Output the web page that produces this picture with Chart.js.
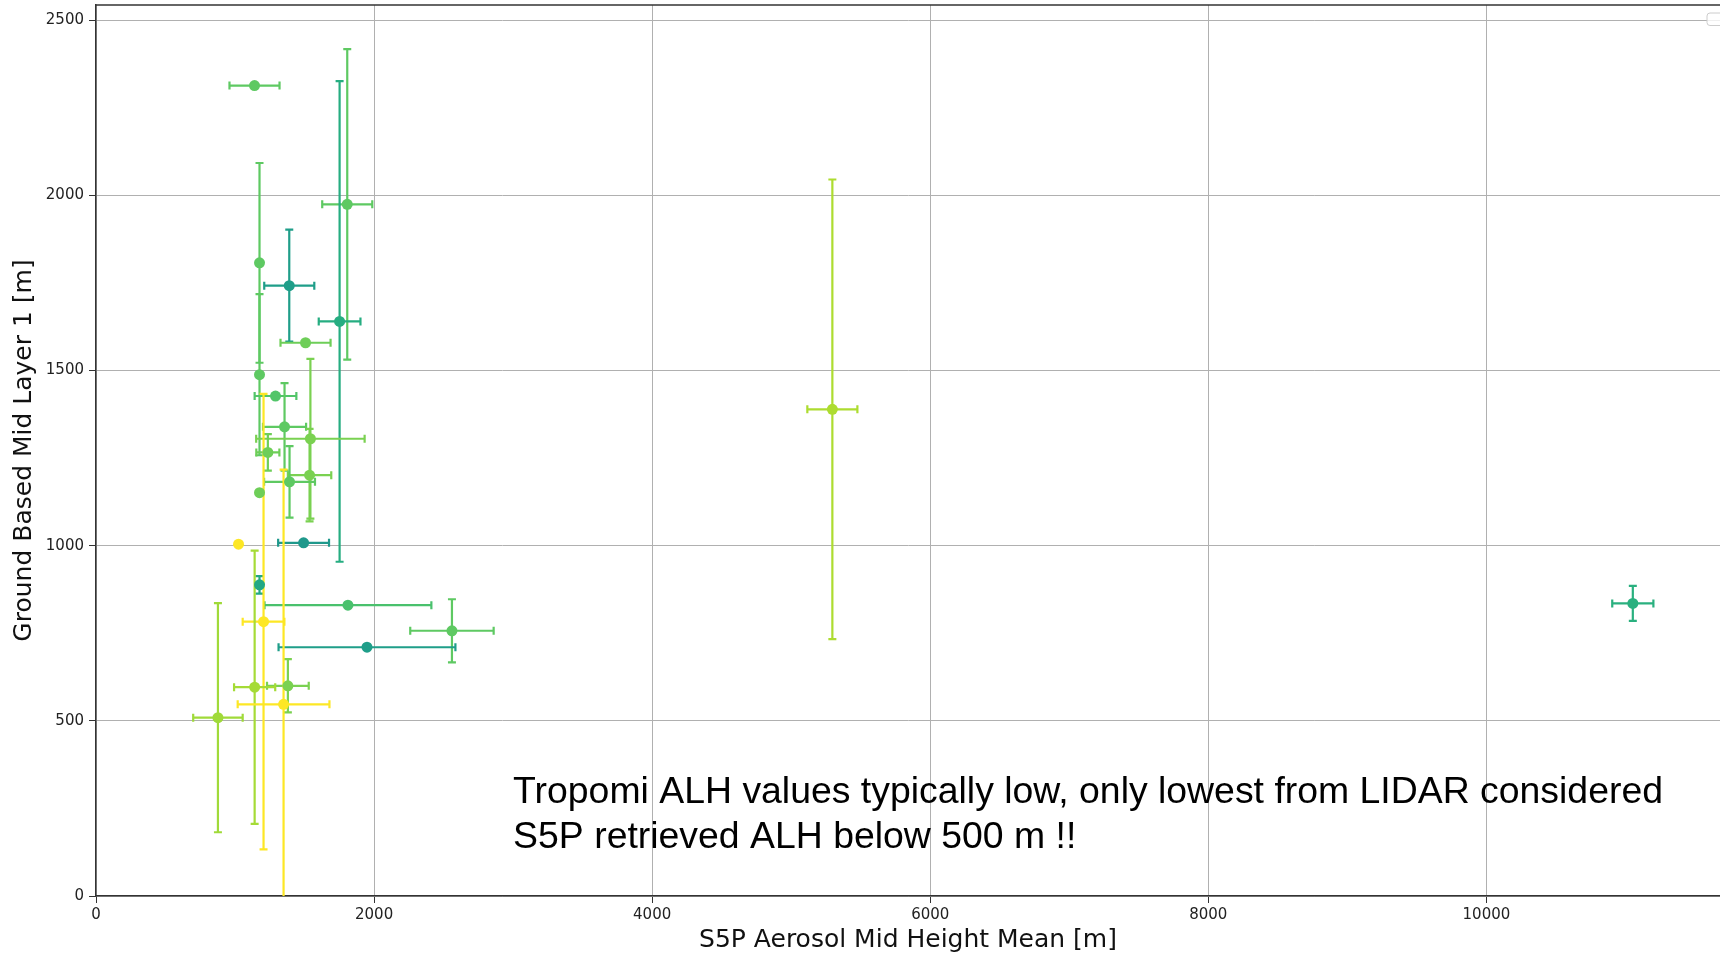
<!DOCTYPE html>
<html>
<head>
<meta charset="utf-8">
<title>S5P ALH vs ground based</title>
<script src="https://cdn.jsdelivr.net/npm/chart.js@4.4.0/dist/chart.umd.min.js"></script>
<style>
  html, body { margin: 0; padding: 0; background: #fff; overflow: hidden; }
</style>
</head>
<body>
<canvas id="alhChart" width="1720" height="953"></canvas>
<script>
// S5P aerosol mid height (x) and ground based mid layer 1 (y), with errors, in metres
const s5pMean    = [1140, 1807, 1176, 1390, 1752, 1507, 1176, 1291, 1356, 1542, 1236, 1536, 1392, 1176,
                    1025, 1493, 1176, 1812, 1205, 2560, 1949, 1380, 1141, 1349, 877, 5296, 11053];
const s5pErr     = [180, 180, 0, 180, 150, 180, 0, 150, 155, 390, 83, 156, 183, 0,
                    0, 183, 10, 600, 150, 300, 636, 150, 148, 330, 178, 180, 148];
const groundMean = [2313, 1974, 1807, 1742, 1640, 1579, 1488, 1427, 1339, 1305, 1266, 1201, 1182, 1151,
                    1004, 1008, 888, 830, 783, 757, 710, 600, 596, 547, 509, 1389, 835];
const groundErr  = [0, 443, 285, 160, 686, 0, 230, 0, 125, 228, 52, 132, 102, 0,
                    0, 0, 25, 0, 650, 90, 0, 76, 390, 670, 327, 656, 50];

const xTickValues = [0, 2000, 4000, 6000, 8000, 10000];
const yTickValues = [0, 500, 1000, 1500, 2000, 2500];
const noteLines = ['Tropomi ALH values typically low, only lowest from LIDAR considered',
                   'S5P retrieved ALH below 500 m !!'];

// per point colours (viridis like)
const pointColors = ['#5ec962', '#5ec962', '#5ec962', '#1f9e89', '#26ad81', '#6ece58', '#5ec962',
                     '#52c569', '#5ec962', '#7ad151', '#6ece58', '#7ad151', '#5ec962', '#6ece58',
                     '#fde725', '#1f988b', '#22a884', '#4ac16d', '#fde725', '#5ec962', '#1f9e89',
                     '#7ad151', '#a5db36', '#fde725', '#a0da39', '#addc30', '#2ab07f'];

const points = s5pMean.map((x, i) => ({ x: x, y: groundMean[i] }));

const errorBars = {
  id: 'errorBars',
  beforeDatasetsDraw(chart) {
    const { ctx, chartArea: a, scales: { x: sx, y: sy } } = chart;
    const cap = 4;
    ctx.save();
    ctx.beginPath();
    ctx.rect(a.left, a.top, a.right - a.left, a.bottom - a.top);
    ctx.clip();
    ctx.lineWidth = 2.2;
    s5pMean.forEach((xv, i) => {
      const px = sx.getPixelForValue(xv);
      const py = sy.getPixelForValue(groundMean[i]);
      ctx.strokeStyle = pointColors[i];
      ctx.beginPath();
      if (s5pErr[i] > 0) {
        const x0 = sx.getPixelForValue(xv - s5pErr[i]);
        const x1 = sx.getPixelForValue(xv + s5pErr[i]);
        ctx.moveTo(x0, py); ctx.lineTo(x1, py);
        ctx.moveTo(x0, py - cap); ctx.lineTo(x0, py + cap);
        ctx.moveTo(x1, py - cap); ctx.lineTo(x1, py + cap);
      }
      if (groundErr[i] > 0) {
        const y0 = sy.getPixelForValue(groundMean[i] - groundErr[i]);
        const y1 = sy.getPixelForValue(groundMean[i] + groundErr[i]);
        ctx.moveTo(px, y0); ctx.lineTo(px, y1);
        ctx.moveTo(px - cap, y0); ctx.lineTo(px + cap, y0);
        ctx.moveTo(px - cap, y1); ctx.lineTo(px + cap, y1);
      }
      ctx.stroke();
    });
    ctx.restore();
  }
};

const frameAndNote = {
  id: 'frameAndNote',
  afterDraw(chart) {
    const { ctx, chartArea: a, scales: { x: sx, y: sy } } = chart;
    ctx.save();
    // top spine
    ctx.strokeStyle = '#333';
    ctx.lineWidth = 1.5;
    ctx.beginPath();
    ctx.moveTo(a.left, a.top);
    ctx.lineTo(a.right, a.top);
    ctx.stroke();
    // empty legend box, top right
    ctx.strokeStyle = '#cccccc';
    ctx.fillStyle = 'rgba(255,255,255,0.8)';
    ctx.lineWidth = 1;
    ctx.beginPath();
    ctx.roundRect(a.right - 13, a.top + 8, 16, 12.5, 3);
    ctx.fill();
    ctx.stroke();
    // annotation
    ctx.fillStyle = '#000';
    ctx.font = '37.4px "Liberation Sans", Arial, sans-serif';
    ctx.textBaseline = 'alphabetic';
    ctx.textAlign = 'left';
    const tx = sx.getPixelForValue(3000);
    const ty = sy.getPixelForValue(137);
    ctx.fillText(noteLines[0], tx, ty - 45);
    ctx.fillText(noteLines[1], tx, ty);
    ctx.restore();
  }
};

const tickFont = { family: '"DejaVu Sans", sans-serif', size: 15 };
const titleFont = { family: '"DejaVu Sans", sans-serif', size: 25, lineHeight: 1 };

const chart = new Chart(document.getElementById('alhChart'), {
  type: 'scatter',
  data: {
    datasets: [{
      data: points,
      pointRadius: 5.5,
      pointHoverRadius: 5.5,
      pointBackgroundColor: pointColors,
      pointBorderColor: pointColors,
      pointBorderWidth: 0
    }]
  },
  options: {
    responsive: false,
    animation: false,
    layout: { autoPadding: false, padding: { top: 5, right: 0, left: 0, bottom: 0 } },
    plugins: { legend: { display: false }, tooltip: { enabled: false } },
    scales: {
      x: {
        type: 'linear',
        min: 0,
        max: 11680,
        afterFit(scale) { scale.height = 57; scale.paddingLeft = 0; scale.paddingRight = 0; },
        afterBuildTicks(scale) { scale.ticks = xTickValues.map(v => ({ value: v })); },
        ticks: { font: tickFont, color: '#222', padding: 3, maxRotation: 0, callback: v => String(v) },
        grid: { color: '#b0b0b0', lineWidth: 1, tickLength: 7, tickColor: '#333' },
        border: { display: true, color: '#333', width: 1.5 },
        title: { display: true, text: 'S5P Aerosol Mid Height Mean [m]', font: titleFont, color: '#111', padding: 0 }
      },
      y: {
        type: 'linear',
        min: 0,
        max: 2543,
        afterFit(scale) { scale.width = 96; scale.paddingTop = 0; scale.paddingBottom = 0; },
        afterBuildTicks(scale) { scale.ticks = yTickValues.map(v => ({ value: v })); },
        ticks: { font: tickFont, color: '#222', padding: 5, callback: v => String(v) },
        grid: { color: '#b0b0b0', lineWidth: 1, tickLength: 7, tickColor: '#333' },
        border: { display: true, color: '#333', width: 1.5 },
        title: { display: true, text: 'Ground Based Mid Layer 1 [m]', font: titleFont, color: '#111', padding: { top: 12, bottom: 0 } }
      }
    }
  },
  plugins: [errorBars, frameAndNote]
});
</script>
</body>
</html>
